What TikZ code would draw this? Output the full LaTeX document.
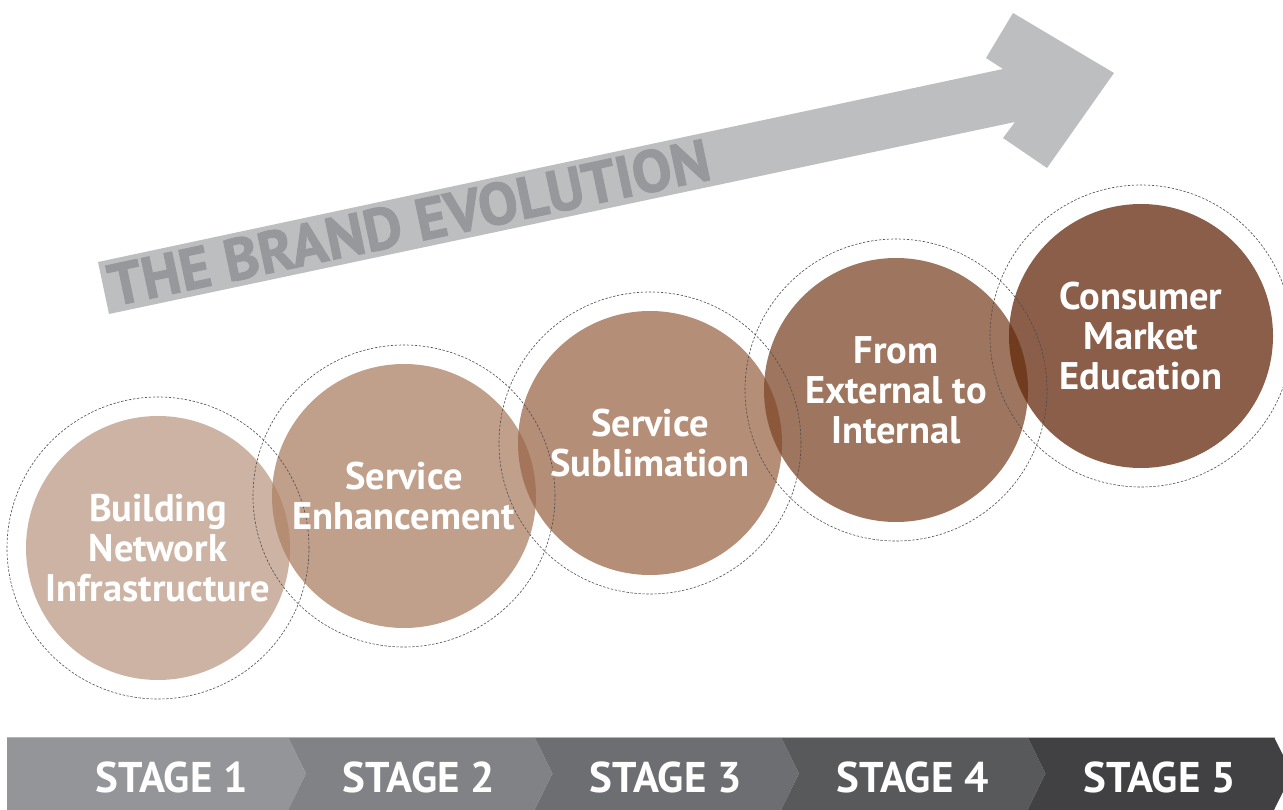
\documentclass[tikz,border=0pt]{standalone}
\usepackage{fontspec}
\setmainfont{PT Sans}
\newfontfamily\brandfont{PT Sans}[BoldFeatures={FakeBold=1.6}]
\definecolor{bandgray}{HTML}{BCBEC0}
\definecolor{bandtext}{HTML}{96989B}
\definecolor{ringgray}{HTML}{4D4D4F}
\definecolor{cA}{RGB}{188,154,132}
\definecolor{cB}{RGB}{172,128,100}
\definecolor{cC}{RGB}{155,104,74}
\definecolor{cD}{RGB}{126,71,40}
\definecolor{cE}{RGB}{99,40,11}
\definecolor{sgA}{HTML}{939598}
\definecolor{sgB}{HTML}{808285}
\definecolor{sgC}{HTML}{6D6E71}
\definecolor{sgD}{HTML}{58595B}
\definecolor{sgE}{HTML}{414042}
\definecolor{barline}{HTML}{B4B5B7}
\begin{document}
\begin{tikzpicture}[x=1pt,y=-1pt,
  disc/.style={circle, minimum size=264pt, inner sep=0pt, fill opacity=0.75},
  ring/.style={circle, minimum size=302pt, inner sep=0pt, draw=ringgray,
    line width=0.6pt, dash pattern=on 2.4pt off 1.6pt},
  disclabel/.style={text=white, align=center, inner sep=0pt,
    font=\bfseries\fontsize{38.5}{40}\selectfont},
  stagelabel/.style={text=white, anchor=base, inner sep=0pt,
    font=\bfseries\fontsize{43}{43}\selectfont},
  brandlabel/.style={text=bandtext, inner sep=0pt,
    font=\brandfont\bfseries\fontsize{59}{59}\selectfont}]
\useasboundingbox (0,0) rectangle (1283,810);

% rising arrow with its caption
\fill[bandgray] (98,262) -- (1003,69) -- (986,58) -- (1013,13) -- (1114,73)
  -- (1047,168) -- (1003,138) -- (1015,122) -- (109,314) -- cycle;
\node[brandlabel, rotate=12] (brand) at (409,222.5) {THE BRAND EVOLUTION};

% stage discs
\node[disc, fill=cA] (d1) at (158,548) {};
\node[disc, fill=cB] (d2) at (404,496) {};
\node[disc, fill=cC] (d3) at (650,443) {};
\node[disc, fill=cD] (d4) at (896,390) {};
\node[disc, fill=cE] (d5) at (1141,336) {};

% dotted rings around the discs
\foreach \k in {1,...,5} \node[ring] (r\k) at (d\k.center) {};

% disc captions
\node[disclabel] (t1) at (d1.center) {Building\\Network\\Infrastructure};
\node[disclabel] (t2) at (d2.center) {Service\\Enhancement};
\node[disclabel] (t3) at (d3.center) {Service\\Sublimation};
\node[disclabel] (t4) at (d4.center) {From\\External to\\Internal};
\node[disclabel] (t5) at (d5.center) {Consumer\\Market\\Education};

% stage bar made of chevrons
\fill[sgA] (7,737) -- (288,737) -- (306,773.5) -- (288,810) -- (7,810) -- cycle;
\fill[sgB] (288,737) -- (534.5,737) -- (552.5,773.5) -- (534.5,810) -- (288,810) -- (306,773.5) -- cycle;
\fill[sgC] (534.5,737) -- (781,737) -- (799,773.5) -- (781,810) -- (534.5,810) -- (552.5,773.5) -- cycle;
\fill[sgD] (781,737) -- (1027.5,737) -- (1045.5,773.5) -- (1027.5,810) -- (781,810) -- (799,773.5) -- cycle;
\fill[sgE] (1027.5,737) -- (1274,737) -- (1292,773.5) -- (1274,810) -- (1027.5,810) -- (1045.5,773.5) -- cycle;
\draw[barline, line width=0.8pt] (7,737.4) -- (1274,737.4);

\node[stagelabel] (s1) at (171.5,792) {STAGE 1};
\node[stagelabel] (s2) at (419,792) {STAGE 2};
\node[stagelabel] (s3) at (665.5,792) {STAGE 3};
\node[stagelabel] (s4) at (912.5,792) {STAGE 4};
\node[stagelabel] (s5) at (1159.5,792) {STAGE 5};
\end{tikzpicture}
\end{document}
